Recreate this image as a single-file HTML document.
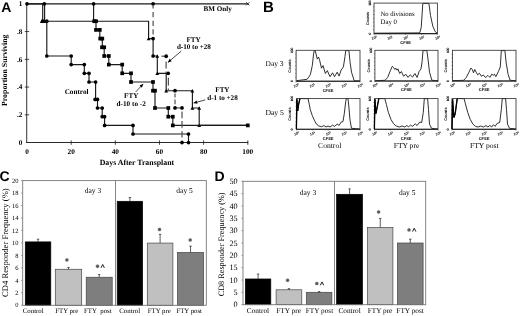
<!DOCTYPE html>
<html><head><meta charset="utf-8"><style>
html,body{margin:0;padding:0;background:#fff;}
body{width:520px;height:316px;overflow:hidden;}
svg{display:block;filter:grayscale(1);}
</style></head><body>
<svg width="520" height="316" viewBox="0 0 520 316" text-rendering="geometricPrecision">
<defs><radialGradient id="sg"><stop offset="0" stop-color="#505050"/><stop offset="0.55" stop-color="#626262"/><stop offset="1" stop-color="#bdbdbd"/></radialGradient></defs>
<rect width="520" height="316" fill="#fff"/>
<text x="1.20" y="11.70" font-size="14" font-weight="bold" text-anchor="start" font-family="'Liberation Sans', sans-serif" fill="#000" >A</text>
<line x1="26.70" y1="3.80" x2="26.70" y2="143.10" stroke="#3a3a3a" stroke-width="1.05"/>
<line x1="26.20" y1="142.50" x2="248.30" y2="142.50" stroke="#2a2a2a" stroke-width="1.1"/>
<text x="22.30" y="5.70" font-size="7.2" font-weight="bold" text-anchor="end" font-family="'Liberation Serif', serif" fill="#000" >1</text>
<line x1="24.80" y1="31.56" x2="29.20" y2="31.56" stroke="#1a1a1a" stroke-width="0.8"/>
<text x="22.30" y="33.96" font-size="7.2" font-weight="bold" text-anchor="end" font-family="'Liberation Serif', serif" fill="#000" >.8</text>
<line x1="24.80" y1="59.32" x2="29.20" y2="59.32" stroke="#1a1a1a" stroke-width="0.8"/>
<text x="22.30" y="61.72" font-size="7.2" font-weight="bold" text-anchor="end" font-family="'Liberation Serif', serif" fill="#000" >.6</text>
<line x1="24.80" y1="87.08" x2="29.20" y2="87.08" stroke="#1a1a1a" stroke-width="0.8"/>
<text x="22.30" y="89.48" font-size="7.2" font-weight="bold" text-anchor="end" font-family="'Liberation Serif', serif" fill="#000" >.4</text>
<line x1="24.80" y1="114.84" x2="29.20" y2="114.84" stroke="#1a1a1a" stroke-width="0.8"/>
<text x="22.30" y="117.24" font-size="7.2" font-weight="bold" text-anchor="end" font-family="'Liberation Serif', serif" fill="#000" >.2</text>
<text x="22.30" y="145.00" font-size="7.2" font-weight="bold" text-anchor="end" font-family="'Liberation Serif', serif" fill="#000" >0</text>
<text x="27.00" y="154.30" font-size="7.3" font-weight="bold" text-anchor="middle" font-family="'Liberation Serif', serif" fill="#000" >0</text>
<line x1="71.16" y1="140.40" x2="71.16" y2="144.80" stroke="#1a1a1a" stroke-width="0.8"/>
<text x="71.16" y="154.30" font-size="7.3" font-weight="bold" text-anchor="middle" font-family="'Liberation Serif', serif" fill="#000" >20</text>
<line x1="115.32" y1="140.40" x2="115.32" y2="144.80" stroke="#1a1a1a" stroke-width="0.8"/>
<text x="115.32" y="154.30" font-size="7.3" font-weight="bold" text-anchor="middle" font-family="'Liberation Serif', serif" fill="#000" >40</text>
<line x1="159.48" y1="140.40" x2="159.48" y2="144.80" stroke="#1a1a1a" stroke-width="0.8"/>
<text x="159.48" y="154.30" font-size="7.3" font-weight="bold" text-anchor="middle" font-family="'Liberation Serif', serif" fill="#000" >60</text>
<line x1="203.64" y1="140.40" x2="203.64" y2="144.80" stroke="#1a1a1a" stroke-width="0.8"/>
<text x="203.64" y="154.30" font-size="7.3" font-weight="bold" text-anchor="middle" font-family="'Liberation Serif', serif" fill="#000" >80</text>
<line x1="247.80" y1="140.40" x2="247.80" y2="144.80" stroke="#1a1a1a" stroke-width="0.8"/>
<text x="247.80" y="154.30" font-size="7.3" font-weight="bold" text-anchor="middle" font-family="'Liberation Serif', serif" fill="#000" >100</text>
<text x="136.90" y="165.40" font-size="7.85" font-weight="bold" text-anchor="middle" font-family="'Liberation Serif', serif" fill="#000" >Days After Transplant</text>
<text transform="translate(6.9,70.3) rotate(-90)" font-size="7.84" font-weight="bold" text-anchor="middle" font-family="'Liberation Serif', serif">Proportion Surviving</text>
<polyline points="27.00,3.80 247.80,3.80" fill="none" stroke="#1a1a1a" stroke-width="1.15" stroke-linejoin="miter"/>
<path d="M246.3,2.3 L249.3,5.3 M246.3,5.3 L249.3,2.3" stroke="#1a1a1a" stroke-width="0.9"/>
<polyline points="27.00,3.80 42.70,3.80 42.70,21.20 46.80,21.20 46.80,56.00 71.20,56.00 71.20,64.60 84.30,64.60 84.30,73.30 89.00,73.30 89.00,82.00 95.60,82.00 95.60,99.40 97.50,99.40 97.50,108.00 102.20,108.00 102.20,116.70 104.60,116.70 104.60,125.40 133.00,125.40 133.00,134.00 188.50,134.00 188.50,142.60" fill="none" stroke="#1a1a1a" stroke-width="1.15" stroke-linejoin="miter"/>
<circle cx="27.00" cy="3.80" r="1.85" fill="#000"/>
<circle cx="42.70" cy="21.20" r="1.85" fill="#000"/>
<circle cx="46.80" cy="21.20" r="1.85" fill="#000"/>
<circle cx="46.80" cy="56.00" r="1.85" fill="#000"/>
<circle cx="71.20" cy="56.00" r="1.85" fill="#000"/>
<circle cx="71.20" cy="64.60" r="1.85" fill="#000"/>
<circle cx="84.30" cy="64.60" r="1.85" fill="#000"/>
<circle cx="84.30" cy="73.30" r="1.85" fill="#000"/>
<circle cx="89.00" cy="73.30" r="1.85" fill="#000"/>
<circle cx="89.00" cy="82.00" r="1.85" fill="#000"/>
<circle cx="95.60" cy="82.00" r="1.85" fill="#000"/>
<circle cx="95.10" cy="99.40" r="1.85" fill="#000"/>
<circle cx="97.50" cy="99.40" r="1.85" fill="#000"/>
<circle cx="97.50" cy="108.00" r="1.85" fill="#000"/>
<circle cx="102.20" cy="108.00" r="1.85" fill="#000"/>
<circle cx="102.20" cy="116.70" r="1.85" fill="#000"/>
<circle cx="104.60" cy="116.70" r="1.85" fill="#000"/>
<circle cx="104.60" cy="125.40" r="1.85" fill="#000"/>
<circle cx="133.00" cy="125.40" r="1.85" fill="#000"/>
<circle cx="133.00" cy="134.00" r="1.85" fill="#000"/>
<circle cx="188.50" cy="134.00" r="1.85" fill="#000"/>
<circle cx="188.50" cy="142.60" r="1.85" fill="#000"/>
<polyline points="44.60,3.80 44.60,21.20 148.60,21.20 148.60,38.60 153.10,38.60 153.10,56.00 157.30,56.00 157.30,73.30 166.20,73.30 166.20,90.70 192.40,90.70 192.40,108.00 199.20,108.00 199.20,125.40 247.80,125.40" fill="none" stroke="#1a1a1a" stroke-width="1.15" stroke-linejoin="miter"/>
<path d="M41.80,19.50 L43.70,22.90 L39.90,22.90 Z" fill="#000"/>
<path d="M44.40,19.50 L46.30,22.90 L42.50,22.90 Z" fill="#000"/>
<path d="M148.60,36.90 L150.50,40.30 L146.70,40.30 Z" fill="#000"/>
<path d="M157.30,54.30 L159.20,57.70 L155.40,57.70 Z" fill="#000"/>
<path d="M157.30,71.60 L159.20,75.00 L155.40,75.00 Z" fill="#000"/>
<path d="M166.20,89.00 L168.10,92.40 L164.30,92.40 Z" fill="#000"/>
<path d="M192.40,89.00 L194.30,92.40 L190.50,92.40 Z" fill="#000"/>
<path d="M192.40,106.30 L194.30,109.70 L190.50,109.70 Z" fill="#000"/>
<path d="M199.20,106.30 L201.10,109.70 L197.30,109.70 Z" fill="#000"/>
<path d="M199.20,123.70 L201.10,127.10 L197.30,127.10 Z" fill="#000"/>
<circle cx="44.30" cy="3.80" r="1.85" fill="#000"/>
<polyline points="93.60,3.80 93.60,21.20 96.00,21.20 96.00,29.90 99.80,29.90 99.80,38.60 102.30,38.60 102.30,47.30 104.20,47.30 104.20,56.00 108.80,56.00 108.80,64.60 122.20,64.60 122.20,73.30 131.00,73.30 131.00,82.00 153.00,82.00 153.00,90.70 155.00,90.70 155.00,108.00 168.30,108.00 168.30,116.70 172.80,116.70 172.80,125.40 247.80,125.40" fill="none" stroke="#1a1a1a" stroke-width="1.15" stroke-linejoin="miter"/>
<circle cx="93.60" cy="3.80" r="1.85" fill="#000"/>
<rect x="92.35" y="19.35" width="3.7" height="3.7" fill="#000"/>
<rect x="94.15" y="19.35" width="3.7" height="3.7" fill="#000"/>
<rect x="94.15" y="28.05" width="3.7" height="3.7" fill="#000"/>
<rect x="97.95" y="28.05" width="3.7" height="3.7" fill="#000"/>
<rect x="98.35" y="36.75" width="3.7" height="3.7" fill="#000"/>
<rect x="100.45" y="36.75" width="3.7" height="3.7" fill="#000"/>
<rect x="100.15" y="45.45" width="3.7" height="3.7" fill="#000"/>
<rect x="102.35" y="45.45" width="3.7" height="3.7" fill="#000"/>
<rect x="102.35" y="54.15" width="3.7" height="3.7" fill="#000"/>
<rect x="106.95" y="54.15" width="3.7" height="3.7" fill="#000"/>
<rect x="106.95" y="62.75" width="3.7" height="3.7" fill="#000"/>
<rect x="120.35" y="62.75" width="3.7" height="3.7" fill="#000"/>
<rect x="120.35" y="71.45" width="3.7" height="3.7" fill="#000"/>
<rect x="129.15" y="71.45" width="3.7" height="3.7" fill="#000"/>
<rect x="129.15" y="80.15" width="3.7" height="3.7" fill="#000"/>
<rect x="151.15" y="80.15" width="3.7" height="3.7" fill="#000"/>
<rect x="151.15" y="88.85" width="3.7" height="3.7" fill="#000"/>
<rect x="153.15" y="88.85" width="3.7" height="3.7" fill="#000"/>
<rect x="153.15" y="106.15" width="3.7" height="3.7" fill="#000"/>
<rect x="166.45" y="106.15" width="3.7" height="3.7" fill="#000"/>
<rect x="166.45" y="114.85" width="3.7" height="3.7" fill="#000"/>
<rect x="170.95" y="114.85" width="3.7" height="3.7" fill="#000"/>
<rect x="170.95" y="123.55" width="3.7" height="3.7" fill="#000"/>
<rect x="245.95" y="123.55" width="3.7" height="3.7" fill="#000"/>
<circle cx="153.10" cy="3.80" r="1.85" fill="#000"/>
<line x1="153.10" y1="5.40" x2="153.10" y2="8.60" stroke="#555" stroke-width="1.25"/>
<line x1="153.10" y1="12.00" x2="153.10" y2="17.20" stroke="#555" stroke-width="1.25"/>
<line x1="153.10" y1="20.70" x2="153.10" y2="26.00" stroke="#555" stroke-width="1.25"/>
<line x1="153.10" y1="29.20" x2="153.10" y2="34.40" stroke="#555" stroke-width="1.25"/>
<line x1="153.10" y1="37.00" x2="153.10" y2="38.60" stroke="#555" stroke-width="1.25"/>
<line x1="161.40" y1="56.20" x2="166.10" y2="56.20" stroke="#555" stroke-width="1.25"/>
<line x1="166.10" y1="56.20" x2="166.10" y2="58.20" stroke="#555" stroke-width="1.25"/>
<line x1="166.10" y1="61.40" x2="166.10" y2="68.60" stroke="#555" stroke-width="1.25"/>
<line x1="166.10" y1="71.60" x2="166.10" y2="73.30" stroke="#555" stroke-width="1.25"/>
<line x1="168.40" y1="73.30" x2="168.40" y2="74.80" stroke="#555" stroke-width="1.25"/>
<line x1="168.40" y1="77.70" x2="168.40" y2="85.60" stroke="#555" stroke-width="1.25"/>
<line x1="168.40" y1="88.50" x2="168.40" y2="90.70" stroke="#555" stroke-width="1.25"/>
<line x1="175.00" y1="93.40" x2="175.00" y2="97.40" stroke="#555" stroke-width="1.25"/>
<line x1="175.00" y1="99.40" x2="175.00" y2="104.20" stroke="#555" stroke-width="1.25"/>
<line x1="175.00" y1="107.90" x2="182.00" y2="107.90" stroke="#555" stroke-width="1.25"/>
<line x1="182.00" y1="111.60" x2="182.00" y2="118.20" stroke="#555" stroke-width="1.25"/>
<line x1="182.00" y1="121.00" x2="182.00" y2="127.70" stroke="#555" stroke-width="1.25"/>
<line x1="182.00" y1="131.30" x2="182.00" y2="137.40" stroke="#555" stroke-width="1.25"/>
<line x1="182.00" y1="140.40" x2="182.00" y2="142.60" stroke="#555" stroke-width="1.25"/>
<circle cx="153.10" cy="38.60" r="1.85" fill="#000"/>
<circle cx="153.10" cy="56.00" r="1.85" fill="#000"/>
<circle cx="166.20" cy="56.20" r="1.85" fill="#000"/>
<circle cx="168.20" cy="73.30" r="1.85" fill="#000"/>
<circle cx="175.00" cy="90.70" r="1.85" fill="#000"/>
<circle cx="175.00" cy="107.90" r="1.85" fill="#000"/>
<circle cx="182.00" cy="107.90" r="1.85" fill="#000"/>
<circle cx="182.00" cy="142.60" r="1.85" fill="#000"/>
<text x="217.70" y="10.70" font-size="7.1" font-weight="bold" text-anchor="middle" font-family="'Liberation Serif', serif" fill="#000" >BM Only</text>
<text x="193.60" y="41.90" font-size="7.1" font-weight="bold" text-anchor="middle" font-family="'Liberation Serif', serif" fill="#000" >FTY</text>
<text x="193.90" y="49.00" font-size="7.1" font-weight="bold" text-anchor="middle" font-family="'Liberation Serif', serif" fill="#000" >d-10 to +28</text>
<text x="76.60" y="93.90" font-size="7.2" font-weight="bold" text-anchor="middle" font-family="'Liberation Serif', serif" fill="#000" >Control</text>
<text x="131.20" y="98.40" font-size="7.1" font-weight="bold" text-anchor="middle" font-family="'Liberation Serif', serif" fill="#000" >FTY</text>
<text x="131.20" y="105.60" font-size="7.2" font-weight="bold" text-anchor="middle" font-family="'Liberation Serif', serif" fill="#000" >d-10 to -2</text>
<text x="222.40" y="92.10" font-size="7.1" font-weight="bold" text-anchor="middle" font-family="'Liberation Serif', serif" fill="#000" >FTY</text>
<text x="222.50" y="99.50" font-size="7.1" font-weight="bold" text-anchor="middle" font-family="'Liberation Serif', serif" fill="#000" >d-1 to +28</text>
<line x1="181.40" y1="51.00" x2="167.90" y2="62.40" stroke="#1a1a1a" stroke-width="0.8"/>
<path d="M167.90,62.40 L169.62,58.85 L171.68,61.30 Z" fill="#000"/>
<line x1="135.60" y1="92.00" x2="143.20" y2="84.00" stroke="#1a1a1a" stroke-width="0.8"/>
<path d="M143.20,84.00 L141.88,87.71 L139.56,85.51 Z" fill="#000"/>
<line x1="205.20" y1="99.90" x2="193.60" y2="103.10" stroke="#1a1a1a" stroke-width="0.8"/>
<path d="M193.60,103.10 L196.64,100.60 L197.50,103.69 Z" fill="#000"/>
<text x="262.90" y="11.90" font-size="15" font-weight="bold" text-anchor="start" font-family="'Liberation Sans', sans-serif" fill="#000" >B</text>
<polyline points="374.30,33.20 419.70,32.90 421.20,27.70 422.80,3.40 428.90,3.40 430.50,15.40 432.80,26.20 435.10,31.50 437.10,33.10" fill="none" stroke="#1a1a1a" stroke-width="0.9" stroke-linejoin="miter"/>
<rect x="374.00" y="3.10" width="63.40" height="30.50" fill="none" stroke="#333" stroke-width="0.85"/>
<line x1="374.00" y1="33.60" x2="437.40" y2="33.60" stroke="#222" stroke-width="1.1"/>
<line x1="374.00" y1="33.60" x2="374.00" y2="34.80" stroke="#333" stroke-width="0.6"/>
<text transform="translate(372.00,39.80) rotate(-15)" font-size="3.5" font-family="'Liberation Sans', sans-serif" fill="#111" stroke="#111" stroke-width="0.12">10<tspan font-size="2.4" dy="-1.4">0</tspan></text>
<line x1="389.85" y1="33.60" x2="389.85" y2="34.80" stroke="#333" stroke-width="0.6"/>
<text transform="translate(387.85,39.80) rotate(-15)" font-size="3.5" font-family="'Liberation Sans', sans-serif" fill="#111" stroke="#111" stroke-width="0.12">10<tspan font-size="2.4" dy="-1.4">1</tspan></text>
<line x1="405.70" y1="33.60" x2="405.70" y2="34.80" stroke="#333" stroke-width="0.6"/>
<text transform="translate(403.70,39.80) rotate(-15)" font-size="3.5" font-family="'Liberation Sans', sans-serif" fill="#111" stroke="#111" stroke-width="0.12">10<tspan font-size="2.4" dy="-1.4">2</tspan></text>
<line x1="421.55" y1="33.60" x2="421.55" y2="34.80" stroke="#333" stroke-width="0.6"/>
<text transform="translate(419.55,39.80) rotate(-15)" font-size="3.5" font-family="'Liberation Sans', sans-serif" fill="#111" stroke="#111" stroke-width="0.12">10<tspan font-size="2.4" dy="-1.4">3</tspan></text>
<line x1="437.40" y1="33.60" x2="437.40" y2="34.80" stroke="#333" stroke-width="0.6"/>
<text transform="translate(435.40,39.80) rotate(-15)" font-size="3.5" font-family="'Liberation Sans', sans-serif" fill="#111" stroke="#111" stroke-width="0.12">10<tspan font-size="2.4" dy="-1.4">4</tspan></text>
<line x1="373.00" y1="29.79" x2="374.00" y2="29.79" stroke="#333" stroke-width="0.5"/>
<line x1="373.00" y1="25.98" x2="374.00" y2="25.98" stroke="#333" stroke-width="0.5"/>
<line x1="373.00" y1="22.16" x2="374.00" y2="22.16" stroke="#333" stroke-width="0.5"/>
<line x1="373.00" y1="18.35" x2="374.00" y2="18.35" stroke="#333" stroke-width="0.5"/>
<line x1="373.00" y1="14.54" x2="374.00" y2="14.54" stroke="#333" stroke-width="0.5"/>
<line x1="373.00" y1="10.73" x2="374.00" y2="10.73" stroke="#333" stroke-width="0.5"/>
<line x1="373.00" y1="6.91" x2="374.00" y2="6.91" stroke="#333" stroke-width="0.5"/>
<text x="405.70" y="44.00" font-size="4.0" font-weight="bold" text-anchor="middle" font-family="'Liberation Sans', sans-serif" fill="#111" stroke="#111" stroke-width="0.05">CFSE</text>
<text transform="translate(369.00,18.55) rotate(-90)" font-size="3.9" font-weight="bold" text-anchor="middle" font-family="'Liberation Sans', sans-serif" fill="#222" stroke="#222" stroke-width="0.05">Counts</text>
<text transform="translate(370.80,3.10) rotate(-90)" font-size="3.3" text-anchor="middle" font-family="'Liberation Sans', sans-serif" fill="#000" stroke="#000" stroke-width="0.15">100</text>
<text transform="translate(370.80,33.60) rotate(-90)" font-size="3.3" text-anchor="middle" font-family="'Liberation Sans', sans-serif" fill="#000" stroke="#000" stroke-width="0.15">0</text>
<text x="380.50" y="15.80" font-size="6.7" font-weight="normal" text-anchor="start" font-family="'Liberation Serif', serif" fill="#000" >No divisions</text>
<text x="380.50" y="23.80" font-size="6.8" font-weight="normal" text-anchor="start" font-family="'Liberation Serif', serif" fill="#000" >Day 0</text>
<polyline points="296.60,80.70 307.10,79.30 310.30,74.80 312.30,65.60 313.60,53.80 314.30,50.60 315.20,50.60 317.30,59.10 318.60,57.10 319.50,59.70 321.50,68.20 323.00,65.60 325.40,73.50 327.30,70.60 330.00,76.70 332.60,72.80 334.50,76.70 337.20,72.20 339.10,76.10 341.10,70.20 343.40,66.90 345.00,56.50 345.70,50.60 348.90,50.60 350.00,61.70 351.50,72.20 354.20,80.70 360.00,81.00" fill="none" stroke="#1a1a1a" stroke-width="0.9" stroke-linejoin="miter"/>
<rect x="296.10" y="50.30" width="63.90" height="30.90" fill="none" stroke="#333" stroke-width="0.85"/>
<line x1="296.10" y1="81.20" x2="360.00" y2="81.20" stroke="#222" stroke-width="1.1"/>
<line x1="296.10" y1="81.20" x2="296.10" y2="82.40" stroke="#333" stroke-width="0.6"/>
<text transform="translate(294.10,87.40) rotate(-15)" font-size="3.5" font-family="'Liberation Sans', sans-serif" fill="#111" stroke="#111" stroke-width="0.12">10<tspan font-size="2.4" dy="-1.4">0</tspan></text>
<line x1="312.08" y1="81.20" x2="312.08" y2="82.40" stroke="#333" stroke-width="0.6"/>
<text transform="translate(310.08,87.40) rotate(-15)" font-size="3.5" font-family="'Liberation Sans', sans-serif" fill="#111" stroke="#111" stroke-width="0.12">10<tspan font-size="2.4" dy="-1.4">1</tspan></text>
<line x1="328.05" y1="81.20" x2="328.05" y2="82.40" stroke="#333" stroke-width="0.6"/>
<text transform="translate(326.05,87.40) rotate(-15)" font-size="3.5" font-family="'Liberation Sans', sans-serif" fill="#111" stroke="#111" stroke-width="0.12">10<tspan font-size="2.4" dy="-1.4">2</tspan></text>
<line x1="344.02" y1="81.20" x2="344.02" y2="82.40" stroke="#333" stroke-width="0.6"/>
<text transform="translate(342.02,87.40) rotate(-15)" font-size="3.5" font-family="'Liberation Sans', sans-serif" fill="#111" stroke="#111" stroke-width="0.12">10<tspan font-size="2.4" dy="-1.4">3</tspan></text>
<line x1="360.00" y1="81.20" x2="360.00" y2="82.40" stroke="#333" stroke-width="0.6"/>
<text transform="translate(358.00,87.40) rotate(-15)" font-size="3.5" font-family="'Liberation Sans', sans-serif" fill="#111" stroke="#111" stroke-width="0.12">10<tspan font-size="2.4" dy="-1.4">4</tspan></text>
<line x1="295.10" y1="77.34" x2="296.10" y2="77.34" stroke="#333" stroke-width="0.5"/>
<line x1="295.10" y1="73.47" x2="296.10" y2="73.47" stroke="#333" stroke-width="0.5"/>
<line x1="295.10" y1="69.61" x2="296.10" y2="69.61" stroke="#333" stroke-width="0.5"/>
<line x1="295.10" y1="65.75" x2="296.10" y2="65.75" stroke="#333" stroke-width="0.5"/>
<line x1="295.10" y1="61.89" x2="296.10" y2="61.89" stroke="#333" stroke-width="0.5"/>
<line x1="295.10" y1="58.02" x2="296.10" y2="58.02" stroke="#333" stroke-width="0.5"/>
<line x1="295.10" y1="54.16" x2="296.10" y2="54.16" stroke="#333" stroke-width="0.5"/>
<text x="328.05" y="91.60" font-size="4.0" font-weight="bold" text-anchor="middle" font-family="'Liberation Sans', sans-serif" fill="#111" stroke="#111" stroke-width="0.05">CFSE</text>
<text transform="translate(291.10,65.95) rotate(-90)" font-size="3.9" font-weight="bold" text-anchor="middle" font-family="'Liberation Sans', sans-serif" fill="#222" stroke="#222" stroke-width="0.05">Counts</text>
<text transform="translate(292.90,50.30) rotate(-90)" font-size="3.3" text-anchor="middle" font-family="'Liberation Sans', sans-serif" fill="#000" stroke="#000" stroke-width="0.15">100</text>
<text transform="translate(292.90,81.20) rotate(-90)" font-size="3.3" text-anchor="middle" font-family="'Liberation Sans', sans-serif" fill="#000" stroke="#000" stroke-width="0.15">0</text>
<polyline points="375.30,80.70 385.10,80.30 387.70,77.40 390.30,70.80 392.30,66.30 393.60,67.60 394.90,69.50 395.80,68.20 397.10,70.20 397.90,68.90 399.70,73.50 401.40,71.50 403.60,76.30 405.70,74.10 408.00,77.40 410.20,74.80 412.50,77.10 414.90,73.50 417.10,77.40 419.10,71.50 421.00,68.90 422.10,61.70 423.00,50.60 426.90,50.60 428.00,59.10 429.50,72.20 431.90,80.30 438.00,80.70" fill="none" stroke="#1a1a1a" stroke-width="0.9" stroke-linejoin="miter"/>
<rect x="374.90" y="50.30" width="63.10" height="30.70" fill="none" stroke="#333" stroke-width="0.85"/>
<line x1="374.90" y1="81.00" x2="438.00" y2="81.00" stroke="#222" stroke-width="1.1"/>
<line x1="374.90" y1="81.00" x2="374.90" y2="82.20" stroke="#333" stroke-width="0.6"/>
<text transform="translate(372.90,87.20) rotate(-15)" font-size="3.5" font-family="'Liberation Sans', sans-serif" fill="#111" stroke="#111" stroke-width="0.12">10<tspan font-size="2.4" dy="-1.4">0</tspan></text>
<line x1="390.67" y1="81.00" x2="390.67" y2="82.20" stroke="#333" stroke-width="0.6"/>
<text transform="translate(388.67,87.20) rotate(-15)" font-size="3.5" font-family="'Liberation Sans', sans-serif" fill="#111" stroke="#111" stroke-width="0.12">10<tspan font-size="2.4" dy="-1.4">1</tspan></text>
<line x1="406.45" y1="81.00" x2="406.45" y2="82.20" stroke="#333" stroke-width="0.6"/>
<text transform="translate(404.45,87.20) rotate(-15)" font-size="3.5" font-family="'Liberation Sans', sans-serif" fill="#111" stroke="#111" stroke-width="0.12">10<tspan font-size="2.4" dy="-1.4">2</tspan></text>
<line x1="422.23" y1="81.00" x2="422.23" y2="82.20" stroke="#333" stroke-width="0.6"/>
<text transform="translate(420.23,87.20) rotate(-15)" font-size="3.5" font-family="'Liberation Sans', sans-serif" fill="#111" stroke="#111" stroke-width="0.12">10<tspan font-size="2.4" dy="-1.4">3</tspan></text>
<line x1="438.00" y1="81.00" x2="438.00" y2="82.20" stroke="#333" stroke-width="0.6"/>
<text transform="translate(436.00,87.20) rotate(-15)" font-size="3.5" font-family="'Liberation Sans', sans-serif" fill="#111" stroke="#111" stroke-width="0.12">10<tspan font-size="2.4" dy="-1.4">4</tspan></text>
<line x1="373.90" y1="77.16" x2="374.90" y2="77.16" stroke="#333" stroke-width="0.5"/>
<line x1="373.90" y1="73.33" x2="374.90" y2="73.33" stroke="#333" stroke-width="0.5"/>
<line x1="373.90" y1="69.49" x2="374.90" y2="69.49" stroke="#333" stroke-width="0.5"/>
<line x1="373.90" y1="65.65" x2="374.90" y2="65.65" stroke="#333" stroke-width="0.5"/>
<line x1="373.90" y1="61.81" x2="374.90" y2="61.81" stroke="#333" stroke-width="0.5"/>
<line x1="373.90" y1="57.97" x2="374.90" y2="57.97" stroke="#333" stroke-width="0.5"/>
<line x1="373.90" y1="54.14" x2="374.90" y2="54.14" stroke="#333" stroke-width="0.5"/>
<text x="406.45" y="91.40" font-size="4.0" font-weight="bold" text-anchor="middle" font-family="'Liberation Sans', sans-serif" fill="#111" stroke="#111" stroke-width="0.05">CFSE</text>
<text transform="translate(369.90,65.85) rotate(-90)" font-size="3.9" font-weight="bold" text-anchor="middle" font-family="'Liberation Sans', sans-serif" fill="#222" stroke="#222" stroke-width="0.05">Counts</text>
<text transform="translate(371.70,50.30) rotate(-90)" font-size="3.3" text-anchor="middle" font-family="'Liberation Sans', sans-serif" fill="#000" stroke="#000" stroke-width="0.15">100</text>
<text transform="translate(371.70,81.00) rotate(-90)" font-size="3.3" text-anchor="middle" font-family="'Liberation Sans', sans-serif" fill="#000" stroke="#000" stroke-width="0.15">0</text>
<polyline points="452.60,80.70 463.70,80.30 466.30,77.40 469.00,72.20 470.90,68.00 472.20,69.30 473.50,72.80 474.80,69.50 476.20,72.20 477.70,74.80 479.40,73.20 481.40,76.30 483.30,75.00 485.60,77.60 487.90,75.40 489.90,77.40 491.80,74.10 493.20,75.40 494.50,74.10 495.80,76.70 498.40,71.50 500.30,66.90 501.30,50.60 504.90,50.60 506.20,63.00 508.20,74.80 510.20,80.30 516.00,80.70" fill="none" stroke="#1a1a1a" stroke-width="0.9" stroke-linejoin="miter"/>
<rect x="452.40" y="50.30" width="63.60" height="30.70" fill="none" stroke="#333" stroke-width="0.85"/>
<line x1="452.40" y1="81.00" x2="516.00" y2="81.00" stroke="#222" stroke-width="1.1"/>
<line x1="452.40" y1="81.00" x2="452.40" y2="82.20" stroke="#333" stroke-width="0.6"/>
<text transform="translate(450.40,87.20) rotate(-15)" font-size="3.5" font-family="'Liberation Sans', sans-serif" fill="#111" stroke="#111" stroke-width="0.12">10<tspan font-size="2.4" dy="-1.4">0</tspan></text>
<line x1="468.30" y1="81.00" x2="468.30" y2="82.20" stroke="#333" stroke-width="0.6"/>
<text transform="translate(466.30,87.20) rotate(-15)" font-size="3.5" font-family="'Liberation Sans', sans-serif" fill="#111" stroke="#111" stroke-width="0.12">10<tspan font-size="2.4" dy="-1.4">1</tspan></text>
<line x1="484.20" y1="81.00" x2="484.20" y2="82.20" stroke="#333" stroke-width="0.6"/>
<text transform="translate(482.20,87.20) rotate(-15)" font-size="3.5" font-family="'Liberation Sans', sans-serif" fill="#111" stroke="#111" stroke-width="0.12">10<tspan font-size="2.4" dy="-1.4">2</tspan></text>
<line x1="500.10" y1="81.00" x2="500.10" y2="82.20" stroke="#333" stroke-width="0.6"/>
<text transform="translate(498.10,87.20) rotate(-15)" font-size="3.5" font-family="'Liberation Sans', sans-serif" fill="#111" stroke="#111" stroke-width="0.12">10<tspan font-size="2.4" dy="-1.4">3</tspan></text>
<line x1="516.00" y1="81.00" x2="516.00" y2="82.20" stroke="#333" stroke-width="0.6"/>
<text transform="translate(514.00,87.20) rotate(-15)" font-size="3.5" font-family="'Liberation Sans', sans-serif" fill="#111" stroke="#111" stroke-width="0.12">10<tspan font-size="2.4" dy="-1.4">4</tspan></text>
<line x1="451.40" y1="77.16" x2="452.40" y2="77.16" stroke="#333" stroke-width="0.5"/>
<line x1="451.40" y1="73.33" x2="452.40" y2="73.33" stroke="#333" stroke-width="0.5"/>
<line x1="451.40" y1="69.49" x2="452.40" y2="69.49" stroke="#333" stroke-width="0.5"/>
<line x1="451.40" y1="65.65" x2="452.40" y2="65.65" stroke="#333" stroke-width="0.5"/>
<line x1="451.40" y1="61.81" x2="452.40" y2="61.81" stroke="#333" stroke-width="0.5"/>
<line x1="451.40" y1="57.97" x2="452.40" y2="57.97" stroke="#333" stroke-width="0.5"/>
<line x1="451.40" y1="54.14" x2="452.40" y2="54.14" stroke="#333" stroke-width="0.5"/>
<text x="484.20" y="91.40" font-size="4.0" font-weight="bold" text-anchor="middle" font-family="'Liberation Sans', sans-serif" fill="#111" stroke="#111" stroke-width="0.05">CFSE</text>
<text transform="translate(447.40,65.85) rotate(-90)" font-size="3.9" font-weight="bold" text-anchor="middle" font-family="'Liberation Sans', sans-serif" fill="#222" stroke="#222" stroke-width="0.05">Counts</text>
<text transform="translate(449.20,50.30) rotate(-90)" font-size="3.3" text-anchor="middle" font-family="'Liberation Sans', sans-serif" fill="#000" stroke="#000" stroke-width="0.15">100</text>
<text transform="translate(449.20,81.00) rotate(-90)" font-size="3.3" text-anchor="middle" font-family="'Liberation Sans', sans-serif" fill="#000" stroke="#000" stroke-width="0.15">0</text>
<polyline points="296.40,129.00 296.90,99.20 297.70,111.00 298.60,104.50 299.90,98.60 308.10,98.60 309.00,103.20 310.30,109.70 312.30,115.60 314.30,120.20 316.20,123.80 318.80,126.00 321.50,126.70 324.10,125.60 326.00,127.00 328.00,126.00 330.00,127.00 332.60,125.10 334.50,126.40 337.20,124.10 339.10,125.40 341.10,122.10 343.00,121.50 344.30,113.60 345.70,101.80 346.30,98.60 348.00,98.60 348.90,107.10 350.00,120.20 351.50,128.30 360.00,129.00" fill="none" stroke="#1a1a1a" stroke-width="0.9" stroke-linejoin="miter"/>
<rect x="296.40" y="98.60" width="63.60" height="30.70" fill="none" stroke="#333" stroke-width="0.85"/>
<line x1="296.40" y1="129.30" x2="360.00" y2="129.30" stroke="#222" stroke-width="1.1"/>
<line x1="296.40" y1="129.30" x2="296.40" y2="130.50" stroke="#333" stroke-width="0.6"/>
<text transform="translate(294.40,135.50) rotate(-15)" font-size="3.5" font-family="'Liberation Sans', sans-serif" fill="#111" stroke="#111" stroke-width="0.12">10<tspan font-size="2.4" dy="-1.4">0</tspan></text>
<line x1="312.30" y1="129.30" x2="312.30" y2="130.50" stroke="#333" stroke-width="0.6"/>
<text transform="translate(310.30,135.50) rotate(-15)" font-size="3.5" font-family="'Liberation Sans', sans-serif" fill="#111" stroke="#111" stroke-width="0.12">10<tspan font-size="2.4" dy="-1.4">1</tspan></text>
<line x1="328.20" y1="129.30" x2="328.20" y2="130.50" stroke="#333" stroke-width="0.6"/>
<text transform="translate(326.20,135.50) rotate(-15)" font-size="3.5" font-family="'Liberation Sans', sans-serif" fill="#111" stroke="#111" stroke-width="0.12">10<tspan font-size="2.4" dy="-1.4">2</tspan></text>
<line x1="344.10" y1="129.30" x2="344.10" y2="130.50" stroke="#333" stroke-width="0.6"/>
<text transform="translate(342.10,135.50) rotate(-15)" font-size="3.5" font-family="'Liberation Sans', sans-serif" fill="#111" stroke="#111" stroke-width="0.12">10<tspan font-size="2.4" dy="-1.4">3</tspan></text>
<line x1="360.00" y1="129.30" x2="360.00" y2="130.50" stroke="#333" stroke-width="0.6"/>
<text transform="translate(358.00,135.50) rotate(-15)" font-size="3.5" font-family="'Liberation Sans', sans-serif" fill="#111" stroke="#111" stroke-width="0.12">10<tspan font-size="2.4" dy="-1.4">4</tspan></text>
<line x1="295.40" y1="125.46" x2="296.40" y2="125.46" stroke="#333" stroke-width="0.5"/>
<line x1="295.40" y1="121.62" x2="296.40" y2="121.62" stroke="#333" stroke-width="0.5"/>
<line x1="295.40" y1="117.79" x2="296.40" y2="117.79" stroke="#333" stroke-width="0.5"/>
<line x1="295.40" y1="113.95" x2="296.40" y2="113.95" stroke="#333" stroke-width="0.5"/>
<line x1="295.40" y1="110.11" x2="296.40" y2="110.11" stroke="#333" stroke-width="0.5"/>
<line x1="295.40" y1="106.28" x2="296.40" y2="106.28" stroke="#333" stroke-width="0.5"/>
<line x1="295.40" y1="102.44" x2="296.40" y2="102.44" stroke="#333" stroke-width="0.5"/>
<text x="328.20" y="139.70" font-size="4.0" font-weight="bold" text-anchor="middle" font-family="'Liberation Sans', sans-serif" fill="#111" stroke="#111" stroke-width="0.05">CFSE</text>
<text transform="translate(291.40,114.15) rotate(-90)" font-size="3.9" font-weight="bold" text-anchor="middle" font-family="'Liberation Sans', sans-serif" fill="#222" stroke="#222" stroke-width="0.05">Counts</text>
<text transform="translate(293.20,98.60) rotate(-90)" font-size="3.3" text-anchor="middle" font-family="'Liberation Sans', sans-serif" fill="#000" stroke="#000" stroke-width="0.15">100</text>
<text transform="translate(293.20,129.30) rotate(-90)" font-size="3.3" text-anchor="middle" font-family="'Liberation Sans', sans-serif" fill="#000" stroke="#000" stroke-width="0.15">0</text>
<polyline points="296.40,129.00 296.90,99.20 297.70,111.00 298.60,104.50 299.90,98.60" fill="none" stroke="#000" stroke-width="1.3" stroke-linejoin="miter"/>
<polyline points="374.40,129.00 374.90,99.20 375.90,113.60 377.20,107.10 378.80,98.60 384.80,98.60 386.40,104.50 388.30,112.30 391.00,119.50 393.60,123.80 396.20,126.00 399.50,127.00 402.10,126.00 404.70,127.00 406.70,125.60 408.60,126.70 410.60,125.10 412.50,126.40 415.20,123.80 417.10,125.60 419.70,122.10 421.70,122.50 423.30,112.30 424.30,98.60 427.60,98.60 428.50,109.70 429.50,124.10 431.50,128.30 438.00,129.00" fill="none" stroke="#1a1a1a" stroke-width="0.9" stroke-linejoin="miter"/>
<rect x="374.40" y="98.60" width="63.60" height="30.70" fill="none" stroke="#333" stroke-width="0.85"/>
<line x1="374.40" y1="129.30" x2="438.00" y2="129.30" stroke="#222" stroke-width="1.1"/>
<line x1="374.40" y1="129.30" x2="374.40" y2="130.50" stroke="#333" stroke-width="0.6"/>
<text transform="translate(372.40,135.50) rotate(-15)" font-size="3.5" font-family="'Liberation Sans', sans-serif" fill="#111" stroke="#111" stroke-width="0.12">10<tspan font-size="2.4" dy="-1.4">0</tspan></text>
<line x1="390.30" y1="129.30" x2="390.30" y2="130.50" stroke="#333" stroke-width="0.6"/>
<text transform="translate(388.30,135.50) rotate(-15)" font-size="3.5" font-family="'Liberation Sans', sans-serif" fill="#111" stroke="#111" stroke-width="0.12">10<tspan font-size="2.4" dy="-1.4">1</tspan></text>
<line x1="406.20" y1="129.30" x2="406.20" y2="130.50" stroke="#333" stroke-width="0.6"/>
<text transform="translate(404.20,135.50) rotate(-15)" font-size="3.5" font-family="'Liberation Sans', sans-serif" fill="#111" stroke="#111" stroke-width="0.12">10<tspan font-size="2.4" dy="-1.4">2</tspan></text>
<line x1="422.10" y1="129.30" x2="422.10" y2="130.50" stroke="#333" stroke-width="0.6"/>
<text transform="translate(420.10,135.50) rotate(-15)" font-size="3.5" font-family="'Liberation Sans', sans-serif" fill="#111" stroke="#111" stroke-width="0.12">10<tspan font-size="2.4" dy="-1.4">3</tspan></text>
<line x1="438.00" y1="129.30" x2="438.00" y2="130.50" stroke="#333" stroke-width="0.6"/>
<text transform="translate(436.00,135.50) rotate(-15)" font-size="3.5" font-family="'Liberation Sans', sans-serif" fill="#111" stroke="#111" stroke-width="0.12">10<tspan font-size="2.4" dy="-1.4">4</tspan></text>
<line x1="373.40" y1="125.46" x2="374.40" y2="125.46" stroke="#333" stroke-width="0.5"/>
<line x1="373.40" y1="121.62" x2="374.40" y2="121.62" stroke="#333" stroke-width="0.5"/>
<line x1="373.40" y1="117.79" x2="374.40" y2="117.79" stroke="#333" stroke-width="0.5"/>
<line x1="373.40" y1="113.95" x2="374.40" y2="113.95" stroke="#333" stroke-width="0.5"/>
<line x1="373.40" y1="110.11" x2="374.40" y2="110.11" stroke="#333" stroke-width="0.5"/>
<line x1="373.40" y1="106.28" x2="374.40" y2="106.28" stroke="#333" stroke-width="0.5"/>
<line x1="373.40" y1="102.44" x2="374.40" y2="102.44" stroke="#333" stroke-width="0.5"/>
<text x="406.20" y="139.70" font-size="4.0" font-weight="bold" text-anchor="middle" font-family="'Liberation Sans', sans-serif" fill="#111" stroke="#111" stroke-width="0.05">CFSE</text>
<text transform="translate(369.40,114.15) rotate(-90)" font-size="3.9" font-weight="bold" text-anchor="middle" font-family="'Liberation Sans', sans-serif" fill="#222" stroke="#222" stroke-width="0.05">Counts</text>
<text transform="translate(371.20,98.60) rotate(-90)" font-size="3.3" text-anchor="middle" font-family="'Liberation Sans', sans-serif" fill="#000" stroke="#000" stroke-width="0.15">100</text>
<text transform="translate(371.20,129.30) rotate(-90)" font-size="3.3" text-anchor="middle" font-family="'Liberation Sans', sans-serif" fill="#000" stroke="#000" stroke-width="0.15">0</text>
<polyline points="374.40,129.00 374.90,99.20 375.90,113.60 377.20,107.10 378.80,98.60" fill="none" stroke="#000" stroke-width="1.3" stroke-linejoin="miter"/>
<polyline points="452.00,129.00 452.60,99.20 453.90,117.50 455.20,113.60 457.20,98.60 464.10,98.60 465.40,103.80 467.70,112.30 470.30,119.50 472.90,124.10 475.50,126.40 478.10,127.00 480.70,126.00 483.30,127.00 486.00,125.60 487.90,127.00 489.90,125.40 491.60,127.00 493.40,124.70 495.10,126.40 497.10,123.40 499.70,122.50 501.30,109.70 502.30,98.60 505.60,98.60 506.50,109.70 507.50,124.10 509.50,128.30 516.00,129.00" fill="none" stroke="#1a1a1a" stroke-width="0.9" stroke-linejoin="miter"/>
<rect x="452.00" y="98.60" width="64.00" height="30.70" fill="none" stroke="#333" stroke-width="0.85"/>
<line x1="452.00" y1="129.30" x2="516.00" y2="129.30" stroke="#222" stroke-width="1.1"/>
<line x1="452.00" y1="129.30" x2="452.00" y2="130.50" stroke="#333" stroke-width="0.6"/>
<text transform="translate(450.00,135.50) rotate(-15)" font-size="3.5" font-family="'Liberation Sans', sans-serif" fill="#111" stroke="#111" stroke-width="0.12">10<tspan font-size="2.4" dy="-1.4">0</tspan></text>
<line x1="468.00" y1="129.30" x2="468.00" y2="130.50" stroke="#333" stroke-width="0.6"/>
<text transform="translate(466.00,135.50) rotate(-15)" font-size="3.5" font-family="'Liberation Sans', sans-serif" fill="#111" stroke="#111" stroke-width="0.12">10<tspan font-size="2.4" dy="-1.4">1</tspan></text>
<line x1="484.00" y1="129.30" x2="484.00" y2="130.50" stroke="#333" stroke-width="0.6"/>
<text transform="translate(482.00,135.50) rotate(-15)" font-size="3.5" font-family="'Liberation Sans', sans-serif" fill="#111" stroke="#111" stroke-width="0.12">10<tspan font-size="2.4" dy="-1.4">2</tspan></text>
<line x1="500.00" y1="129.30" x2="500.00" y2="130.50" stroke="#333" stroke-width="0.6"/>
<text transform="translate(498.00,135.50) rotate(-15)" font-size="3.5" font-family="'Liberation Sans', sans-serif" fill="#111" stroke="#111" stroke-width="0.12">10<tspan font-size="2.4" dy="-1.4">3</tspan></text>
<line x1="516.00" y1="129.30" x2="516.00" y2="130.50" stroke="#333" stroke-width="0.6"/>
<text transform="translate(514.00,135.50) rotate(-15)" font-size="3.5" font-family="'Liberation Sans', sans-serif" fill="#111" stroke="#111" stroke-width="0.12">10<tspan font-size="2.4" dy="-1.4">4</tspan></text>
<line x1="451.00" y1="125.46" x2="452.00" y2="125.46" stroke="#333" stroke-width="0.5"/>
<line x1="451.00" y1="121.62" x2="452.00" y2="121.62" stroke="#333" stroke-width="0.5"/>
<line x1="451.00" y1="117.79" x2="452.00" y2="117.79" stroke="#333" stroke-width="0.5"/>
<line x1="451.00" y1="113.95" x2="452.00" y2="113.95" stroke="#333" stroke-width="0.5"/>
<line x1="451.00" y1="110.11" x2="452.00" y2="110.11" stroke="#333" stroke-width="0.5"/>
<line x1="451.00" y1="106.28" x2="452.00" y2="106.28" stroke="#333" stroke-width="0.5"/>
<line x1="451.00" y1="102.44" x2="452.00" y2="102.44" stroke="#333" stroke-width="0.5"/>
<text x="484.00" y="139.70" font-size="4.0" font-weight="bold" text-anchor="middle" font-family="'Liberation Sans', sans-serif" fill="#111" stroke="#111" stroke-width="0.05">CFSE</text>
<text transform="translate(447.00,114.15) rotate(-90)" font-size="3.9" font-weight="bold" text-anchor="middle" font-family="'Liberation Sans', sans-serif" fill="#222" stroke="#222" stroke-width="0.05">Counts</text>
<text transform="translate(448.80,98.60) rotate(-90)" font-size="3.3" text-anchor="middle" font-family="'Liberation Sans', sans-serif" fill="#000" stroke="#000" stroke-width="0.15">100</text>
<text transform="translate(448.80,129.30) rotate(-90)" font-size="3.3" text-anchor="middle" font-family="'Liberation Sans', sans-serif" fill="#000" stroke="#000" stroke-width="0.15">0</text>
<polyline points="452.00,129.00 452.60,99.20 453.90,117.50 455.20,113.60 457.20,98.60" fill="none" stroke="#000" stroke-width="1.3" stroke-linejoin="miter"/>
<text x="265.60" y="65.60" font-size="7.45" font-weight="normal" text-anchor="start" font-family="'Liberation Serif', serif" fill="#000" >Day 3</text>
<text x="265.40" y="114.80" font-size="7.7" font-weight="normal" text-anchor="start" font-family="'Liberation Serif', serif" fill="#000" >Day 5</text>
<text x="329.70" y="147.70" font-size="7.6" font-weight="normal" text-anchor="middle" font-family="'Liberation Serif', serif" fill="#000" >Control</text>
<text x="406.50" y="147.70" font-size="7.6" font-weight="normal" text-anchor="middle" font-family="'Liberation Serif', serif" fill="#000" >FTY pre</text>
<text x="484.30" y="147.70" font-size="7.6" font-weight="normal" text-anchor="middle" font-family="'Liberation Serif', serif" fill="#000" >FTY post</text>
<text x="-0.40" y="180.80" font-size="14" font-weight="bold" text-anchor="start" font-family="'Liberation Sans', sans-serif" fill="#000" >C</text>
<rect x="25.30" y="241.89" width="25.50" height="63.41" fill="#000" stroke="#000" stroke-width="0.7"/>
<line x1="38.05" y1="239.21" x2="38.05" y2="241.89" stroke="#333" stroke-width="0.8"/>
<line x1="36.85" y1="239.21" x2="39.25" y2="239.21" stroke="#333" stroke-width="0.8"/>
<rect x="55.30" y="269.26" width="26.40" height="36.04" fill="#c0c0c0" stroke="#444" stroke-width="0.7"/>
<line x1="68.50" y1="267.45" x2="68.50" y2="269.26" stroke="#333" stroke-width="0.8"/>
<line x1="67.30" y1="267.45" x2="69.70" y2="267.45" stroke="#333" stroke-width="0.8"/>
<rect x="86.20" y="277.24" width="26.00" height="28.06" fill="#7e7e7e" stroke="#444" stroke-width="0.7"/>
<line x1="99.20" y1="274.56" x2="99.20" y2="277.24" stroke="#333" stroke-width="0.8"/>
<line x1="98.00" y1="274.56" x2="100.40" y2="274.56" stroke="#333" stroke-width="0.8"/>
<rect x="117.20" y="201.30" width="25.40" height="104.00" fill="#000" stroke="#000" stroke-width="0.7"/>
<line x1="129.90" y1="197.56" x2="129.90" y2="201.30" stroke="#333" stroke-width="0.8"/>
<line x1="128.70" y1="197.56" x2="131.10" y2="197.56" stroke="#333" stroke-width="0.8"/>
<rect x="147.30" y="243.07" width="25.60" height="62.23" fill="#c0c0c0" stroke="#444" stroke-width="0.7"/>
<line x1="160.10" y1="234.35" x2="160.10" y2="243.07" stroke="#333" stroke-width="0.8"/>
<line x1="158.90" y1="234.35" x2="161.30" y2="234.35" stroke="#333" stroke-width="0.8"/>
<rect x="177.50" y="252.43" width="26.10" height="52.87" fill="#7e7e7e" stroke="#444" stroke-width="0.7"/>
<line x1="190.55" y1="246.19" x2="190.55" y2="252.43" stroke="#333" stroke-width="0.8"/>
<line x1="189.35" y1="246.19" x2="191.75" y2="246.19" stroke="#333" stroke-width="0.8"/>
<rect x="22.70" y="180.60" width="183.60" height="124.70" fill="none" stroke="#777" stroke-width="0.9"/>
<line x1="115.50" y1="180.60" x2="115.50" y2="305.30" stroke="#777" stroke-width="0.9"/>
<line x1="21.10" y1="305.30" x2="22.70" y2="305.30" stroke="#777" stroke-width="0.7"/>
<text x="18.60" y="307.44" font-size="6.5" font-weight="normal" text-anchor="end" font-family="'Liberation Serif', serif" fill="#000" >0</text>
<line x1="21.10" y1="292.83" x2="22.70" y2="292.83" stroke="#777" stroke-width="0.7"/>
<text x="18.60" y="294.97" font-size="6.5" font-weight="normal" text-anchor="end" font-family="'Liberation Serif', serif" fill="#000" >2</text>
<line x1="21.10" y1="280.36" x2="22.70" y2="280.36" stroke="#777" stroke-width="0.7"/>
<text x="18.60" y="282.50" font-size="6.5" font-weight="normal" text-anchor="end" font-family="'Liberation Serif', serif" fill="#000" >4</text>
<line x1="21.10" y1="267.89" x2="22.70" y2="267.89" stroke="#777" stroke-width="0.7"/>
<text x="18.60" y="270.03" font-size="6.5" font-weight="normal" text-anchor="end" font-family="'Liberation Serif', serif" fill="#000" >6</text>
<line x1="21.10" y1="255.42" x2="22.70" y2="255.42" stroke="#777" stroke-width="0.7"/>
<text x="18.60" y="257.56" font-size="6.5" font-weight="normal" text-anchor="end" font-family="'Liberation Serif', serif" fill="#000" >8</text>
<line x1="21.10" y1="242.95" x2="22.70" y2="242.95" stroke="#777" stroke-width="0.7"/>
<text x="18.60" y="245.09" font-size="6.5" font-weight="normal" text-anchor="end" font-family="'Liberation Serif', serif" fill="#000" >10</text>
<line x1="21.10" y1="230.48" x2="22.70" y2="230.48" stroke="#777" stroke-width="0.7"/>
<text x="18.60" y="232.62" font-size="6.5" font-weight="normal" text-anchor="end" font-family="'Liberation Serif', serif" fill="#000" >12</text>
<line x1="21.10" y1="218.01" x2="22.70" y2="218.01" stroke="#777" stroke-width="0.7"/>
<text x="18.60" y="220.16" font-size="6.5" font-weight="normal" text-anchor="end" font-family="'Liberation Serif', serif" fill="#000" >14</text>
<line x1="21.10" y1="205.54" x2="22.70" y2="205.54" stroke="#777" stroke-width="0.7"/>
<text x="18.60" y="207.69" font-size="6.5" font-weight="normal" text-anchor="end" font-family="'Liberation Serif', serif" fill="#000" >16</text>
<line x1="21.10" y1="193.07" x2="22.70" y2="193.07" stroke="#777" stroke-width="0.7"/>
<text x="18.60" y="195.22" font-size="6.5" font-weight="normal" text-anchor="end" font-family="'Liberation Serif', serif" fill="#000" >18</text>
<line x1="21.10" y1="180.60" x2="22.70" y2="180.60" stroke="#777" stroke-width="0.7"/>
<text x="18.60" y="182.75" font-size="6.5" font-weight="normal" text-anchor="end" font-family="'Liberation Serif', serif" fill="#000" >20</text>
<text transform="translate(7.80,242.60) rotate(-90)" font-size="8.6" text-anchor="middle" font-family="'Liberation Serif', serif">CD4 Responder Frequency (%)</text>
<text x="84.70" y="193.00" font-size="7.5" font-weight="normal" text-anchor="start" font-family="'Liberation Serif', serif" fill="#000" >day 3</text>
<text x="176.30" y="193.30" font-size="7.5" font-weight="normal" text-anchor="start" font-family="'Liberation Serif', serif" fill="#000" >day 5</text>
<circle cx="66.90" cy="259.90" r="2.0" fill="url(#sg)"/>
<circle cx="97.50" cy="266.20" r="2.0" fill="url(#sg)"/>
<path d="M101.00,267.90 L102.70,264.50 L104.40,267.90" fill="none" stroke="#222" stroke-width="1.0"/>
<circle cx="159.50" cy="229.40" r="2.0" fill="url(#sg)"/>
<circle cx="190.20" cy="240.00" r="2.0" fill="url(#sg)"/>
<text x="33.20" y="312.60" font-size="6.8" font-weight="normal" text-anchor="middle" font-family="'Liberation Serif', serif" fill="#000" >Control</text>
<text x="66.80" y="312.60" font-size="6.8" font-weight="normal" text-anchor="middle" font-family="'Liberation Serif', serif" fill="#000" >FTY pre</text>
<text x="97.80" y="312.60" font-size="6.8" font-weight="normal" text-anchor="middle" font-family="'Liberation Serif', serif" fill="#000" >FTY  post</text>
<text x="129.70" y="312.60" font-size="6.8" font-weight="normal" text-anchor="middle" font-family="'Liberation Serif', serif" fill="#000" >Control</text>
<text x="159.20" y="312.60" font-size="6.8" font-weight="normal" text-anchor="middle" font-family="'Liberation Serif', serif" fill="#000" >FTY pre</text>
<text x="189.20" y="312.60" font-size="6.8" font-weight="normal" text-anchor="middle" font-family="'Liberation Serif', serif" fill="#000" >FTY post</text>
<text x="214.60" y="180.80" font-size="14" font-weight="bold" text-anchor="start" font-family="'Liberation Sans', sans-serif" fill="#000" >D</text>
<rect x="245.40" y="278.98" width="25.40" height="25.72" fill="#000" stroke="#000" stroke-width="0.7"/>
<line x1="258.10" y1="274.07" x2="258.10" y2="278.98" stroke="#333" stroke-width="0.8"/>
<line x1="256.90" y1="274.07" x2="259.30" y2="274.07" stroke="#333" stroke-width="0.8"/>
<rect x="276.10" y="289.79" width="25.70" height="14.91" fill="#c0c0c0" stroke="#444" stroke-width="0.7"/>
<line x1="288.95" y1="288.68" x2="288.95" y2="289.79" stroke="#333" stroke-width="0.8"/>
<line x1="287.75" y1="288.68" x2="290.15" y2="288.68" stroke="#333" stroke-width="0.8"/>
<rect x="306.30" y="292.29" width="25.60" height="12.41" fill="#7e7e7e" stroke="#444" stroke-width="0.7"/>
<line x1="319.10" y1="291.55" x2="319.10" y2="292.29" stroke="#333" stroke-width="0.8"/>
<line x1="317.90" y1="291.55" x2="320.30" y2="291.55" stroke="#333" stroke-width="0.8"/>
<rect x="336.60" y="194.31" width="25.90" height="110.39" fill="#000" stroke="#000" stroke-width="0.7"/>
<line x1="349.55" y1="188.90" x2="349.55" y2="194.31" stroke="#333" stroke-width="0.8"/>
<line x1="348.35" y1="188.90" x2="350.75" y2="188.90" stroke="#333" stroke-width="0.8"/>
<rect x="367.60" y="227.45" width="25.30" height="77.25" fill="#c0c0c0" stroke="#444" stroke-width="0.7"/>
<line x1="380.25" y1="218.44" x2="380.25" y2="227.45" stroke="#333" stroke-width="0.8"/>
<line x1="379.05" y1="218.44" x2="381.45" y2="218.44" stroke="#333" stroke-width="0.8"/>
<rect x="397.40" y="243.00" width="25.70" height="61.70" fill="#7e7e7e" stroke="#444" stroke-width="0.7"/>
<line x1="410.25" y1="239.17" x2="410.25" y2="243.00" stroke="#333" stroke-width="0.8"/>
<line x1="409.05" y1="239.17" x2="411.45" y2="239.17" stroke="#333" stroke-width="0.8"/>
<rect x="243.00" y="181.30" width="182.70" height="123.40" fill="none" stroke="#777" stroke-width="0.9"/>
<line x1="334.50" y1="181.30" x2="334.50" y2="304.70" stroke="#777" stroke-width="0.9"/>
<line x1="241.40" y1="304.70" x2="243.00" y2="304.70" stroke="#777" stroke-width="0.7"/>
<text x="237.60" y="307.41" font-size="8.2" font-weight="normal" text-anchor="end" font-family="'Liberation Serif', serif" fill="#000" >0</text>
<line x1="241.40" y1="292.36" x2="243.00" y2="292.36" stroke="#777" stroke-width="0.7"/>
<text x="237.60" y="295.07" font-size="8.2" font-weight="normal" text-anchor="end" font-family="'Liberation Serif', serif" fill="#000" >5</text>
<line x1="241.40" y1="280.02" x2="243.00" y2="280.02" stroke="#777" stroke-width="0.7"/>
<text x="237.60" y="282.73" font-size="8.2" font-weight="normal" text-anchor="end" font-family="'Liberation Serif', serif" fill="#000" >10</text>
<line x1="241.40" y1="267.68" x2="243.00" y2="267.68" stroke="#777" stroke-width="0.7"/>
<text x="237.60" y="270.39" font-size="8.2" font-weight="normal" text-anchor="end" font-family="'Liberation Serif', serif" fill="#000" >15</text>
<line x1="241.40" y1="255.34" x2="243.00" y2="255.34" stroke="#777" stroke-width="0.7"/>
<text x="237.60" y="258.05" font-size="8.2" font-weight="normal" text-anchor="end" font-family="'Liberation Serif', serif" fill="#000" >20</text>
<line x1="241.40" y1="243.00" x2="243.00" y2="243.00" stroke="#777" stroke-width="0.7"/>
<text x="237.60" y="245.71" font-size="8.2" font-weight="normal" text-anchor="end" font-family="'Liberation Serif', serif" fill="#000" >25</text>
<line x1="241.40" y1="230.66" x2="243.00" y2="230.66" stroke="#777" stroke-width="0.7"/>
<text x="237.60" y="233.37" font-size="8.2" font-weight="normal" text-anchor="end" font-family="'Liberation Serif', serif" fill="#000" >30</text>
<line x1="241.40" y1="218.32" x2="243.00" y2="218.32" stroke="#777" stroke-width="0.7"/>
<text x="237.60" y="221.03" font-size="8.2" font-weight="normal" text-anchor="end" font-family="'Liberation Serif', serif" fill="#000" >35</text>
<line x1="241.40" y1="205.98" x2="243.00" y2="205.98" stroke="#777" stroke-width="0.7"/>
<text x="237.60" y="208.69" font-size="8.2" font-weight="normal" text-anchor="end" font-family="'Liberation Serif', serif" fill="#000" >40</text>
<line x1="241.40" y1="193.64" x2="243.00" y2="193.64" stroke="#777" stroke-width="0.7"/>
<text x="237.60" y="196.35" font-size="8.2" font-weight="normal" text-anchor="end" font-family="'Liberation Serif', serif" fill="#000" >45</text>
<line x1="241.40" y1="181.30" x2="243.00" y2="181.30" stroke="#777" stroke-width="0.7"/>
<text x="237.60" y="184.01" font-size="8.2" font-weight="normal" text-anchor="end" font-family="'Liberation Serif', serif" fill="#000" >50</text>
<text transform="translate(224.30,244.40) rotate(-90)" font-size="8.23" text-anchor="middle" font-family="'Liberation Serif', serif">CD8 Responder Frequency (%)</text>
<text x="299.70" y="195.00" font-size="7.5" font-weight="normal" text-anchor="start" font-family="'Liberation Serif', serif" fill="#000" >day 3</text>
<text x="399.00" y="194.80" font-size="7.5" font-weight="normal" text-anchor="start" font-family="'Liberation Serif', serif" fill="#000" >day 5</text>
<circle cx="287.60" cy="280.30" r="2.0" fill="url(#sg)"/>
<circle cx="316.80" cy="283.60" r="2.0" fill="url(#sg)"/>
<path d="M320.30,285.30 L322.00,281.90 L323.70,285.30" fill="none" stroke="#222" stroke-width="1.0"/>
<circle cx="378.60" cy="212.00" r="2.0" fill="url(#sg)"/>
<circle cx="409.00" cy="229.90" r="2.0" fill="url(#sg)"/>
<path d="M412.50,231.60 L414.20,228.20 L415.90,231.60" fill="none" stroke="#222" stroke-width="1.0"/>
<text x="258.00" y="312.60" font-size="7.3" font-weight="normal" text-anchor="middle" font-family="'Liberation Serif', serif" fill="#000" >Control</text>
<text x="288.60" y="312.60" font-size="7.3" font-weight="normal" text-anchor="middle" font-family="'Liberation Serif', serif" fill="#000" >FTY pre</text>
<text x="319.50" y="312.60" font-size="7.3" font-weight="normal" text-anchor="middle" font-family="'Liberation Serif', serif" fill="#000" >FTY post</text>
<text x="349.60" y="312.60" font-size="7.3" font-weight="normal" text-anchor="middle" font-family="'Liberation Serif', serif" fill="#000" >Control</text>
<text x="380.00" y="312.60" font-size="7.3" font-weight="normal" text-anchor="middle" font-family="'Liberation Serif', serif" fill="#000" >FTY pre</text>
<text x="410.10" y="312.60" font-size="7.3" font-weight="normal" text-anchor="middle" font-family="'Liberation Serif', serif" fill="#000" >FTY post</text>
</svg>
</body></html>
